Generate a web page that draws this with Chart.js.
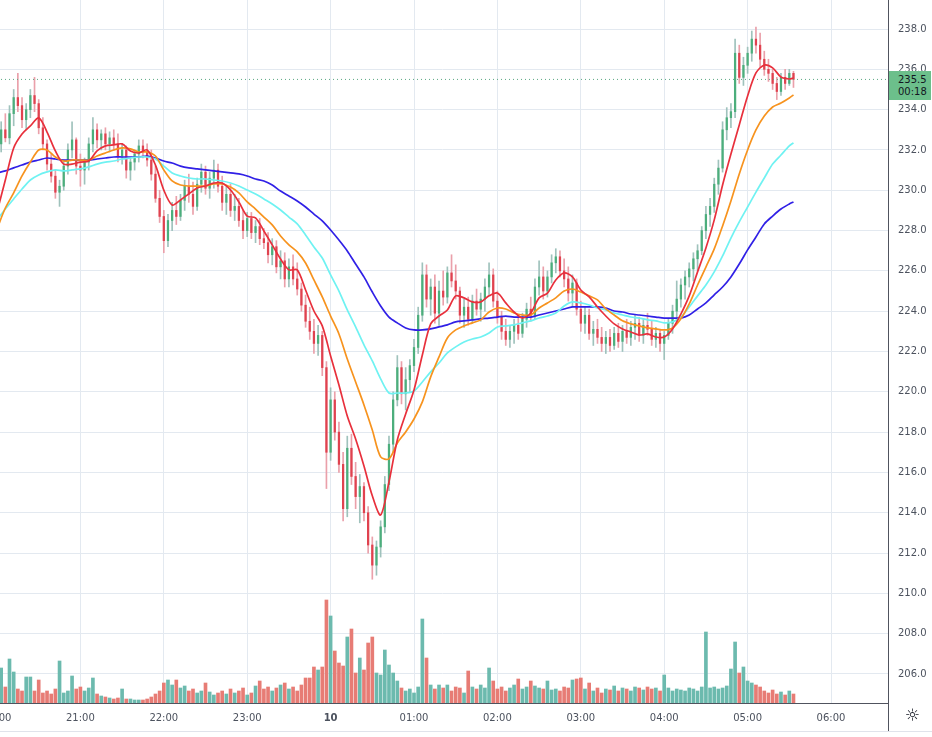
<!DOCTYPE html>
<html>
<head>
<meta charset="utf-8">
<title>Price chart</title>
<script src="https://cdn.jsdelivr.net/npm/chart.js@4.4.1/dist/chart.umd.min.js"></script>
<style>
  html, body { margin: 0; padding: 0; background: #fff; overflow: hidden; width: 932px; height: 737px; }
  #wrap { position: absolute; left: -40px; top: -16px; }
  #ultimo { position: absolute; left: 889px; width: 42px; height: 29px; background: #6cbf8b;
            font: 10px "DejaVu Sans", sans-serif; color: #131722; box-sizing: border-box;
            padding: 3px 0 0 9px; line-height: 12px; }
  #eixo-baixo { position: absolute; left: 888px; top: 703px; width: 1px; height: 28px; background: #50535e; }
  #linha-baixo { position: absolute; left: 0; top: 731px; width: 932px; height: 1px; background: #e0e3eb; }
  #engrenagem { position: absolute; left: 905px; top: 705px; font: 17px "DejaVu Sans", sans-serif; color: #131722; }
</style>
</head>
<body>
<div id="wrap"><canvas id="grafico" width="975" height="747"></canvas></div>
<div id="ultimo"><div id="ultimo-preco"></div><div id="ultimo-tempo"></div></div>
<div id="eixo-baixo"></div>
<div id="linha-baixo"></div>
<div id="engrenagem">☼</div>
<script>
// 3-minute candles starting at 20:00
const passoVelaMin = 3;

const aberturas = [
  231.0,232.3,233.0,232.6,233.8,234.6,234.2,233.5,234.0,234.7,234.3,233.1,232.3,231.3,230.7,229.9,230.2,231.2,232.0,232.5,
  231.2,231.0,231.4,232.3,233.0,232.5,232.8,232.3,232.6,232.3,231.7,232.0,231.0,231.4,231.8,232.2,231.9,231.5,230.8,229.6,
  228.7,227.5,228.5,229.0,228.7,229.5,230.2,229.8,229.2,230.3,230.9,230.1,230.6,231.0,230.2,229.4,229.8,229.0,229.2,228.5,
  228.0,228.6,227.9,228.2,227.6,227.4,226.8,227.2,226.2,226.5,225.6,226.2,225.6,225.1,224.3,223.5,223.0,222.4,222.8,221.2,
  217.0,219.6,218.0,216.4,214.2,217.2,215.8,214.8,215.3,214.0,212.4,211.4,212.3,213.3,215.4,217.4,219.6,221.2,219.9,220.6,
  221.3,222.2,223.8,225.8,224.6,225.2,223.9,225.0,224.7,225.9,225.5,225.0,223.8,224.2,223.6,224.5,224.1,224.6,225.2,225.8,
  224.5,223.7,223.0,222.6,223.0,223.3,222.9,223.6,224.1,223.8,225.2,225.7,225.0,225.7,226.4,226.7,226.0,225.6,224.9,225.4,
  224.1,223.4,223.8,222.9,223.1,222.7,222.4,222.7,222.3,222.9,222.5,223.0,222.7,223.2,223.4,222.8,223.3,223.1,222.6,222.9,
  222.4,222.8,223.4,224.0,224.6,225.3,225.7,226.1,226.6,227.0,228.0,228.8,229.2,230.3,231.1,233.0,233.6,233.9,236.8,235.6,
  236.2,236.8,237.5,237.2,236.5,236.0,235.8,235.3,234.9,235.6,235.3,235.8
];
const maximas = [
  232.6,233.4,233.8,234.2,235.0,235.8,234.6,234.3,235.0,235.6,234.5,233.6,232.5,231.8,231.0,230.5,231.5,232.3,233.4,232.6,
  231.8,231.6,232.6,233.6,233.3,233.0,233.1,232.9,233.0,232.8,232.3,232.2,231.6,232.0,232.5,232.5,232.3,232.0,231.2,230.0,
  229.0,228.8,229.4,229.7,229.8,230.5,230.8,230.4,230.6,231.3,231.2,230.9,231.5,231.3,230.7,230.2,230.3,229.8,229.6,229.0,
  228.9,228.9,228.5,228.6,228.1,227.9,227.6,227.5,227.0,226.9,226.6,226.8,226.4,225.4,224.8,224.2,223.6,223.3,223.0,221.5,
  220.2,220.0,218.5,217.0,217.8,217.9,216.5,215.9,215.5,214.3,212.8,212.6,213.6,215.8,217.8,220.0,221.8,221.5,221.2,221.6,
  222.6,224.2,226.4,226.3,225.6,225.8,225.5,226.0,226.2,226.8,226.3,225.2,224.6,224.7,224.8,225.1,224.9,225.6,226.4,226.1,
  225.0,224.0,223.6,223.3,223.6,223.8,223.9,224.4,224.7,225.6,226.5,226.2,226.0,226.8,227.1,227.0,226.6,226.2,225.8,225.6,
  224.5,224.2,224.1,223.5,223.6,223.2,223.0,223.1,223.2,223.4,223.3,223.6,223.5,223.8,223.7,223.6,223.9,223.5,223.2,223.1,
  223.0,223.6,224.3,225.5,225.6,226.0,226.4,226.9,227.3,228.2,229.2,229.6,230.6,231.5,233.4,234.1,234.3,237.5,237.2,236.6,
  237.1,237.9,238.1,237.8,236.9,236.5,236.0,235.6,235.8,236.0,236.0,235.9
];
const minimas = [
  230.8,231.9,232.4,232.3,233.2,233.9,233.1,233.0,233.6,233.9,232.8,232.0,231.0,230.4,229.6,229.2,230.0,230.8,231.6,230.8,
  230.2,230.3,231.0,231.9,232.1,232.0,232.0,231.9,232.0,231.4,231.3,230.6,230.5,231.0,231.4,231.6,231.2,230.5,229.4,228.4,
  226.9,227.2,228.0,228.3,228.5,229.0,229.4,228.8,229.0,229.9,229.8,229.6,230.1,229.9,229.0,228.8,228.7,228.5,228.2,227.6,
  227.7,227.6,227.4,227.3,227.1,226.4,226.3,225.9,225.6,225.2,225.2,225.3,224.8,224.0,223.2,222.6,221.9,221.8,220.8,215.2,
  216.6,217.6,216.0,213.6,213.8,215.4,214.2,213.5,213.6,212.0,210.7,210.9,211.8,213.0,215.1,217.0,219.3,219.4,219.1,220.0,
  221.0,221.9,223.5,224.2,223.8,223.4,223.3,224.3,224.4,225.2,224.6,223.4,223.2,223.3,223.4,223.8,223.5,224.0,224.8,224.2,
  223.4,222.6,222.3,222.2,222.4,222.6,222.7,223.2,223.5,223.6,224.8,224.6,224.7,225.4,225.9,225.7,225.2,224.5,224.2,223.8,
  223.0,222.9,222.6,222.3,222.4,222.0,221.9,222.0,222.1,222.2,222.0,222.4,222.3,222.6,222.5,222.4,222.8,222.3,222.2,222.0,
  221.6,222.6,222.9,223.6,224.2,224.6,225.2,225.5,226.0,226.8,227.6,228.2,228.9,229.8,230.9,232.5,233.1,233.6,235.3,235.2,
  235.8,236.4,236.8,236.1,235.7,235.4,235.0,234.5,234.7,235.0,235.2,235.1
];
const fechamentos = [
  232.3,233.0,232.6,233.8,234.6,234.2,233.5,234.0,234.7,234.3,233.1,232.3,231.3,230.7,229.9,230.2,231.2,232.0,232.5,231.2,
  231.0,231.4,232.3,233.0,232.5,232.8,232.3,232.6,232.3,231.7,232.0,231.0,231.4,231.8,232.2,231.9,231.5,230.8,229.6,228.7,
  227.5,228.5,229.0,228.7,229.5,230.2,229.8,229.2,230.3,230.9,230.1,230.6,231.0,230.2,229.4,229.8,229.0,229.2,228.5,228.0,
  228.6,227.9,228.2,227.6,227.4,226.8,227.2,226.2,226.5,225.6,226.2,225.6,225.1,224.3,223.5,223.0,222.4,222.8,221.2,217.0,
  219.6,218.0,216.4,214.2,217.2,215.8,214.8,215.3,214.0,212.4,211.4,212.3,213.3,215.4,217.4,219.6,221.2,219.9,220.6,221.3,
  222.2,223.8,225.8,224.6,225.2,223.9,225.0,224.7,225.9,225.5,225.0,223.8,224.2,223.6,224.5,224.1,224.6,225.2,225.8,224.5,
  223.7,223.0,222.6,223.0,223.3,222.9,223.6,224.1,223.8,225.2,225.7,225.0,225.7,226.4,226.7,226.0,225.6,224.9,225.4,224.1,
  223.4,223.8,222.9,223.1,222.7,222.4,222.7,222.3,222.9,222.5,223.0,222.7,223.2,223.4,222.8,223.3,223.1,222.6,222.9,222.4,
  222.8,223.4,224.0,224.6,225.3,225.7,226.1,226.6,227.0,228.0,228.8,229.2,230.3,231.1,233.0,233.6,233.9,236.8,235.6,236.2,
  236.8,237.5,237.2,236.5,236.0,235.8,235.3,234.9,235.6,235.3,235.8,235.5
];
const volumes = [
  15,35,16,44,31,14,12,26,26,12,23,10,12,9,14,42,10,12,27,14,
  16,12,15,25,9,7,6,5,4,5,14,4,4,3,3,3,4,6,9,12,
  20,23,18,23,15,17,12,14,10,12,20,11,8,10,12,9,14,10,12,15,
  8,10,17,22,14,16,12,15,18,20,14,16,12,18,25,25,36,33,36,103,
  87,52,40,37,66,74,30,45,33,60,66,30,28,53,38,30,22,15,12,14,
  10,16,84,45,18,14,18,15,18,12,16,15,10,32,16,14,18,15,35,22,
  14,16,12,15,18,24,14,16,22,17,15,14,22,13,14,12,16,15,23,24,
  25,14,20,12,15,10,14,13,17,12,15,14,12,16,15,13,16,14,15,12,
  28,15,12,14,13,12,15,14,12,16,71,15,16,14,15,17,34,61,30,36,
  22,20,18,16,12,10,13,9,11,8,12,9
];

// moving averages read every 6 minutes (last point at 05:33)
const mmVermelha = [
  228.92,230.51,232.10,232.79,233.19,233.59,232.89,231.95,231.30,231.30,
  231.40,231.45,231.95,232.20,232.25,232.30,231.95,231.85,232.00,231.25,
  230.01,229.27,229.52,229.82,230.11,230.21,230.36,230.36,230.01,229.42,
  228.72,228.63,227.98,227.29,226.59,226.05,226.05,225.05,224.01,223.27,
  221.78,220.34,218.80,217.66,216.32,214.84,213.89,215.53,217.61,218.90,
  220.09,221.83,223.37,223.76,224.06,224.76,224.66,224.46,224.46,224.76,
  224.90,224.41,223.96,223.66,223.91,224.66,224.90,225.55,225.90,225.70,
  225.05,224.71,224.21,223.76,223.37,223.12,222.97,222.82,222.87,222.72,
  222.72,223.12,223.86,224.76,225.95,227.14,228.53,230.26,231.80,233.24,
  234.68,235.82,236.21,236.07,235.62,235.52,235.57
];
const mmLaranja = [
  228.08,229.12,229.87,230.71,231.40,232.00,232.00,231.65,231.45,231.50,
  231.50,231.50,231.70,231.85,232.00,232.10,232.05,231.90,231.90,231.70,
  231.01,230.46,230.26,230.21,230.21,230.21,230.31,230.31,230.16,229.87,
  229.42,229.07,228.67,228.28,227.73,227.29,226.94,226.39,225.55,224.71,
  223.76,222.87,221.63,220.49,219.35,218.11,216.77,216.67,217.46,218.01,
  218.65,219.50,220.74,221.73,222.67,223.07,223.27,223.42,223.57,223.96,
  224.16,224.11,223.91,223.81,223.81,224.16,224.41,224.66,225.00,225.10,
  224.95,224.76,224.56,224.11,223.81,223.52,223.37,223.27,223.17,223.12,
  223.07,223.17,223.62,224.36,225.30,226.19,227.09,228.23,229.47,230.81,
  232.00,232.99,233.68,234.13,234.33,234.58,234.73
];
const mmCiano = [
  228.53,229.07,229.57,230.06,230.51,230.76,230.91,231.01,230.96,231.01,
  231.06,231.16,231.30,231.40,231.45,231.55,231.60,231.65,231.65,231.55,
  231.20,230.86,230.71,230.61,230.56,230.56,230.51,230.46,230.36,230.21,
  230.01,229.82,229.57,229.32,229.02,228.67,228.33,227.78,227.19,226.64,
  225.80,225.00,224.06,223.22,222.33,221.53,220.64,219.94,219.94,219.94,
  220.04,220.49,220.99,221.43,221.93,222.23,222.47,222.62,222.72,222.92,
  223.22,223.27,223.32,223.42,223.52,223.66,223.76,223.91,224.26,224.46,
  224.41,224.31,224.16,224.06,223.91,223.81,223.71,223.66,223.57,223.52,
  223.42,223.47,223.71,224.21,224.76,225.30,225.95,226.74,227.63,228.43,
  229.17,229.91,230.61,231.30,231.75,232.20,232.35
];
const mmAzul = [
  230.86,230.96,231.11,231.25,231.40,231.50,231.60,231.55,231.50,231.50,
  231.50,231.50,231.55,231.60,231.65,231.65,231.65,231.65,231.70,231.60,
  231.45,231.35,231.20,231.11,231.06,231.01,230.96,230.91,230.86,230.81,
  230.71,230.56,230.46,230.26,229.96,229.72,229.47,229.17,228.82,228.48,
  228.03,227.53,226.99,226.34,225.70,224.95,224.26,223.71,223.42,223.17,
  223.07,223.07,223.12,223.22,223.32,223.47,223.52,223.57,223.62,223.66,
  223.71,223.76,223.71,223.71,223.71,223.81,223.91,224.01,224.11,224.21,
  224.21,224.21,224.21,224.16,224.01,223.96,223.86,223.81,223.76,223.71,
  223.66,223.66,223.66,223.81,224.11,224.41,224.81,225.20,225.70,226.34,
  227.04,227.68,228.33,228.72,229.07,229.32,229.42
];

const ultimoPreco = 235.5;
const ultimoTempo = "00:18";
const rotulosHora = ["20:00", "21:00", "22:00", "23:00", "10", "01:00", "02:00", "03:00", "04:00", "05:00", "06:00"];

const corGrade = "#e3e9f0";
const corEixo = "#50535e";
const corTexto = "#4c525e";
const fonte = "DejaVu Sans";

const minutosVela = fechamentos.map((_, i) => i * passoVelaMin);
const minutosMedia = mmVermelha.map((_, k) => Math.min(k * 6, 573));
const alta = fechamentos.map((c, i) => c >= aberturas[i]);

function pontos(valores) {
    return valores.map((v, k) => ({ x: minutosMedia[k], y: v }));
}

function linhaMedia(rotulo, valores, cor, ordem) {
    return {
        type: "line",
        label: rotulo,
        data: pontos(valores),
        borderColor: cor,
        borderWidth: 1.7,
        pointRadius: 0,
        tension: 0.3,
        order: ordem
    };
}

const ctx = document.querySelector("#grafico");

const chart = new Chart(ctx, {
    type: "bar",
    data: {
        datasets: [
            linhaMedia("MM 9", mmVermelha, "#e8303c", 1),
            linhaMedia("MM 21", mmLaranja, "#f7931e", 2),
            linhaMedia("MM 50", mmCiano, "#6ff2f2", 3),
            linhaMedia("MM 100", mmAzul, "#3020e6", 4),
            {
                type: "line",
                label: "Último",
                data: [{ x: 0, y: ultimoPreco }, { x: 641, y: ultimoPreco }],
                borderColor: "#5aa882",
                borderWidth: 1,
                borderDash: [1, 3],
                pointRadius: 0,
                order: 5
            },
            {
                label: "Corpos",
                data: aberturas.map((o, i) => ({ x: minutosVela[i], y: [o, fechamentos[i]] })),
                backgroundColor: alta.map(a => a ? "#4cae7c" : "#e0424f"),
                barThickness: 1.6,
                minBarLength: 1,
                grouped: false,
                order: 6
            },
            {
                label: "Pavios",
                data: maximas.map((h, i) => ({ x: minutosVela[i], y: [minimas[i], h] })),
                backgroundColor: alta.map(a => a ? "#9fc2bc" : "#eaa0aa"),
                barThickness: 1,
                grouped: false,
                order: 7
            },
            {
                label: "Volume",
                data: volumes.map((v, i) => ({ x: minutosVela[i], y: v })),
                yAxisID: "yv",
                backgroundColor: alta.map(a => a ? "#6cbaae" : "#e77c75"),
                barThickness: 3,
                grouped: false,
                order: 8
            }
        ]
    },
    options: {
        responsive: false,
        animation: false,
        layout: { padding: { left: 37, top: 16, right: 0, bottom: 0 } },
        plugins: { legend: { display: false }, tooltip: { enabled: false } },
        scales: {
            x: {
                type: "linear",
                min: 0,
                max: 641,
                offset: false,
                grid: { color: corGrade, drawTicks: false, offset: false },
                border: { display: true, color: corEixo },
                afterBuildTicks: s => { s.ticks = rotulosHora.map((_, h) => ({ value: h * 60 })); },
                afterFit: s => { s.height = 28; },
                ticks: {
                    autoSkip: false,
                    maxRotation: 0,
                    padding: 9,
                    color: corTexto,
                    font: c => ({ family: fonte, size: 10, weight: c.tick && c.tick.value === 240 ? "bold" : "normal" }),
                    callback: v => rotulosHora[Math.round(v / 60)]
                }
            },
            y: {
                position: "right",
                min: 204.56,
                max: 239.44,
                grid: { color: corGrade, drawTicks: false },
                border: { display: true, color: corEixo },
                afterFit: s => { s.width = 47; },
                ticks: {
                    stepSize: 2,
                    includeBounds: false,
                    padding: 10,
                    color: corTexto,
                    font: { family: fonte, size: 10 },
                    callback: v => v.toFixed(1)
                }
            },
            yv: { display: false, min: 0, max: 703 }
        }
    }
});

const caixa = document.querySelector("#ultimo");
caixa.style.top = (chart.scales.y.getPixelForValue(ultimoPreco) - 16 - 8.5) + "px";
document.querySelector("#ultimo-preco").textContent = ultimoPreco.toFixed(1);
document.querySelector("#ultimo-tempo").textContent = ultimoTempo;
</script>
</body>
</html>
